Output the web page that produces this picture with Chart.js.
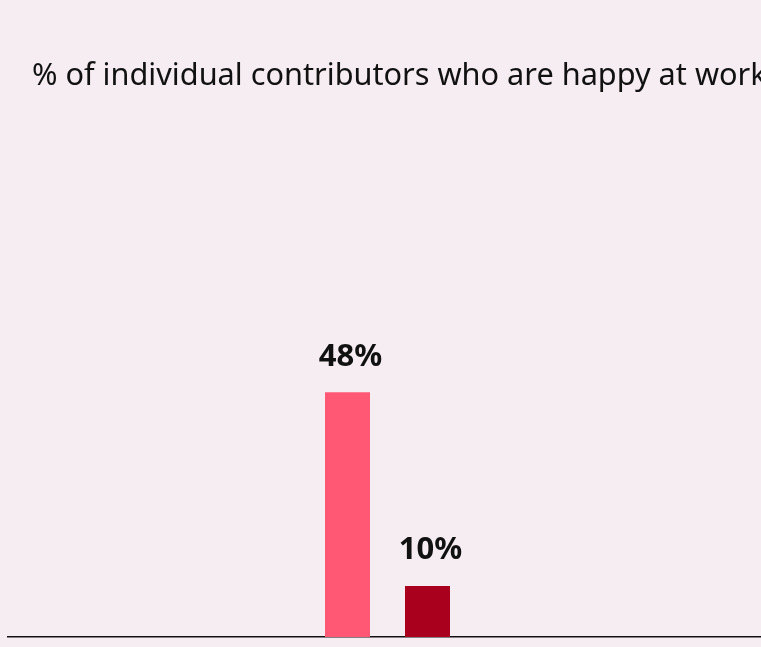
<!DOCTYPE html>
<html>
<head>
<meta charset="utf-8">
<script src="https://cdn.jsdelivr.net/npm/chart.js@4"></script>
<style>
  html, body { margin: 0; padding: 0; background: #f6edf2; overflow: hidden; }
  .wrap { width: 780px; height: 647px; }
</style>
</head>
<body>
<div class="wrap"><canvas id="happyChart"></canvas></div>
<script>
const ctx = document.querySelector('#happyChart').getContext('2d');

// One category, two groups side by side
const categories = [''];
const seriesNames = ['Group 1', 'Group 2'];
const seriesValues = [[48], [10]];
const seriesColors = ['#ff5874', '#a8001d'];

const titleText = '% of individual contributors who are happy at work';

// Heading drawn at a fixed indent above the plot
const heading = {
    id: 'heading',
    afterDraw(chart) {
        const c = chart.ctx;
        c.save();
        c.font = '30.7px "Noto Sans"';
        c.fillStyle = '#111';
        c.textAlign = 'left';
        c.textBaseline = 'alphabetic';
        c.fillText(titleText, 32, 85);
        c.restore();
    },
};

// Writes the value above each bar
const valueLabels = {
    id: 'valueLabels',
    afterDatasetsDraw(chart) {
        const c = chart.ctx;
        c.save();
        c.font = 'bold 31px "Noto Sans"';
        c.fillStyle = '#111';
        c.textAlign = 'center';
        c.textBaseline = 'bottom';
        chart.data.datasets.forEach((ds, i) => {
            chart.getDatasetMeta(i).data.forEach((bar, j) => {
                c.fillText(ds.data[j] + '%', bar.x + 3, bar.y - 20);
            });
        });
        c.restore();
    },
};

const data = {
    labels: categories,
    datasets: seriesNames.map((name, i) => ({
        label: name,
        data: seriesValues[i],
        backgroundColor: seriesColors[i],
    })),
};

const config = {
    type: 'bar',
    data: data,
    options: {
        responsive: true,
        maintainAspectRatio: false,
        animation: false,
        layout: {
            padding: { left: 8, right: 13, top: 127, bottom: 10 },
        },
        datasets: {
            bar: { categoryPercentage: 0.2108, barPercentage: 0.5625 },
        },
        plugins: {
            legend: { display: false },
            tooltip: { enabled: false },
            title: { display: false },
        },
        scales: {
            x: {
                grid: { display: false, drawTicks: false },
                ticks: { display: false },
                border: { display: true, color: '#111', width: 1.5 },
            },
            y: {
                display: false,
                min: 0,
                max: 100,
            },
        },
    },
    plugins: [heading, valueLabels],
};

const happyChart = new Chart(ctx, config);
</script>
</body>
</html>
